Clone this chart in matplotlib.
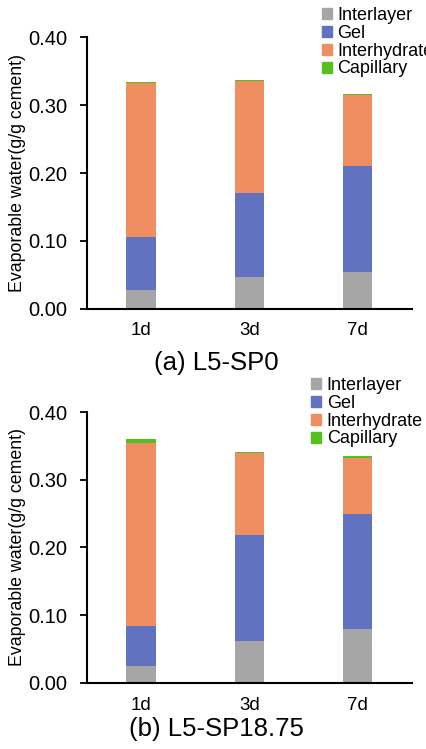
import numpy as np
from matplotlib import pyplot as plt
from matplotlib.patches import Patch

plt.rcParams['font.family'] = ['Liberation Sans', 'DejaVu Sans']

ages = ["1d", "3d", "7d"]
components = ["Interlayer", "Gel", "Interhydrate", "Capillary"]
colors = ["#a6a6a6", "#6173c0", "#ef8f61", "#55bf1f"]

# (a) L5-SP0
sp0_interlayer = [0.0275, 0.046, 0.054]
sp0_gel = [0.078, 0.125, 0.157]
sp0_interhydrate = [0.2275, 0.1646, 0.104]
sp0_capillary = [0.0015, 0.0015, 0.002]

# (b) L5-SP18.75
sp18_interlayer = [0.0246, 0.0616, 0.0788]
sp18_gel = [0.0596, 0.1564, 0.170]
sp18_interhydrate = [0.2705, 0.121, 0.084]
sp18_capillary = [0.005, 0.002, 0.0015]

panels = [
    ("(a) L5-SP0", [sp0_interlayer, sp0_gel, sp0_interhydrate, sp0_capillary]),
    ("(b) L5-SP18.75", [sp18_interlayer, sp18_gel, sp18_interhydrate, sp18_capillary]),
]

fig = plt.figure(figsize=(4.26, 7.49), dpi=100)
ax_pos = [[0.204, 0.588, 0.763, 0.362], [0.204, 0.0885, 0.763, 0.3614]]
title_y = [1 - 363 / 749, 1 - 729 / 749]
legend_anchor = [(0.756, 0.991), (0.731, 0.497)]

for i, (title, series) in enumerate(panels):
    ax = fig.add_axes(ax_pos[i])
    x = np.arange(len(ages))
    bottom = np.zeros(len(ages))
    for vals, c in zip(series, colors):
        ax.bar(x, vals, width=0.27, bottom=bottom, color=c)
        bottom += np.array(vals)

    ax.set_xlim(-0.5, 2.5)
    ax.set_ylim(0, 0.4)
    ax.set_yticks([0, 0.1, 0.2, 0.3, 0.4])
    ax.set_yticklabels(["%.2f" % v for v in [0, 0.1, 0.2, 0.3, 0.4]])
    ax.set_xticks(x)
    ax.set_xticklabels(ages)
    ax.tick_params(axis='y', labelsize=14.5, length=5, width=1.3, pad=9, direction='out')
    ax.tick_params(axis='x', labelsize=13.5, length=0, pad=10)
    for s in ["top", "right"]:
        ax.spines[s].set_visible(False)
    for s in ["left", "bottom"]:
        ax.spines[s].set_linewidth(1.5)
    ax.set_ylabel("Evaporable water(g/g cement)", fontsize=12.8, labelpad=2)

    fig.text(0.507, title_y[i], title, fontsize=18.5, ha='center', va='center')

    handles = [Patch(color=c, label=l) for c, l in zip(colors, components)]
    fig.legend(handles=handles, loc='upper left', bbox_to_anchor=legend_anchor[i],
               frameon=False, fontsize=13, borderpad=0, borderaxespad=0,
               labelspacing=0.05, handlelength=0.55, handleheight=0.55,
               handletextpad=0.3)

fig.savefig('out.png', dpi=100)
